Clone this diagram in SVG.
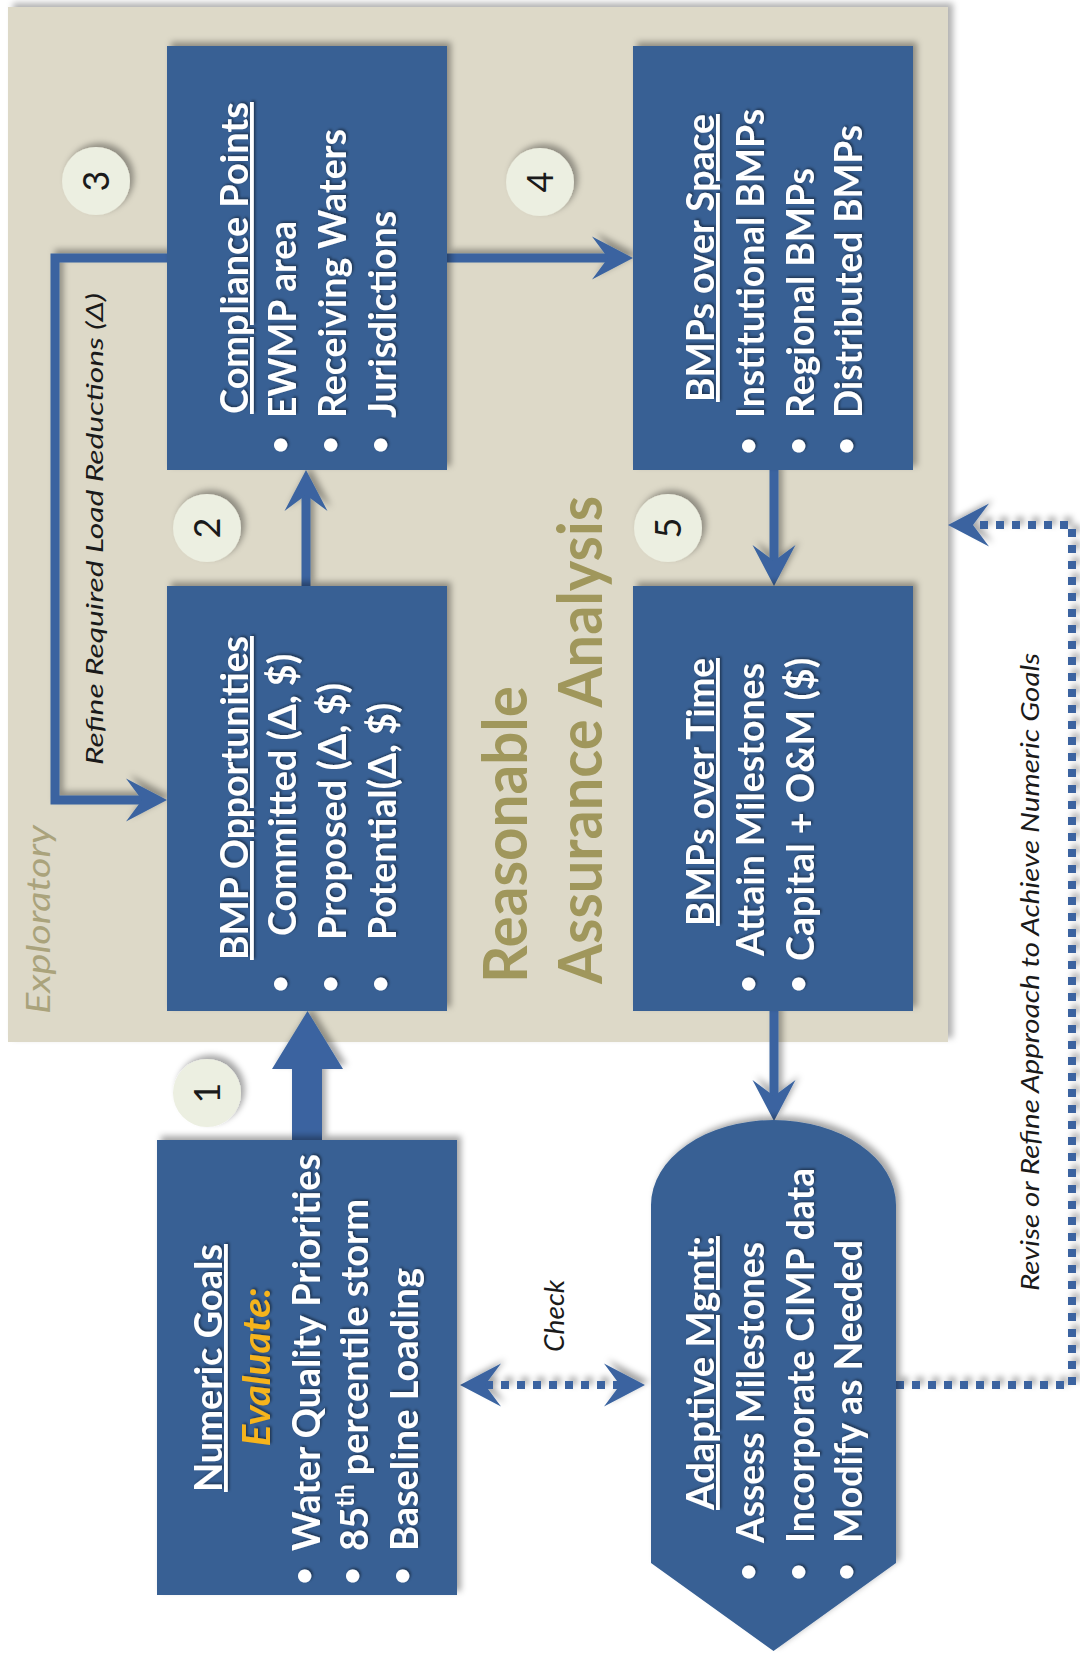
<svg xmlns="http://www.w3.org/2000/svg" width="1080" height="1656" viewBox="0 0 1080 1656">
  <defs>
    <style>
      .box { fill: #386094; }
      .txt { font-family: Lato, "Open Sans", "DejaVu Sans", sans-serif; font-weight: 700; font-size: 38px; fill: #ffffff; }
      .ttl { text-decoration: underline; }
      .bul { font-family: Lato, "Open Sans", "DejaVu Sans", sans-serif; font-size: 30px; fill: #ffffff; font-weight: 700; }
      .eval { font-family: Lato, "Open Sans", "DejaVu Sans", sans-serif; font-weight: 700; font-style: italic; font-size: 38px; fill: #f6b41c; }
      .badge { fill: #ecefe1; }
      .digit { font-family: Lato, "Open Sans", "DejaVu Sans", sans-serif; font-size: 36px; fill: #1a1a1a; }
      .note { font-family: Lato, "Open Sans", "DejaVu Sans", sans-serif; font-style: italic; fill: #1a1a1a; }
      .olive { font-family: Lato, "Open Sans", "DejaVu Sans", sans-serif; font-weight: 700; font-size: 62px; fill: #a0975c; }
      .explo { font-family: Lato, "Open Sans", "DejaVu Sans", sans-serif; font-style: italic; font-size: 32px; fill: #aaa37c; }
      .link { fill: none; stroke: #3a64a0; stroke-width: 9; }
      .dots { fill: none; stroke: #3a64a0; stroke-width: 8; stroke-dasharray: 8 8; }
    </style>
    <filter id="sh" x="-15%" y="-15%" width="130%" height="130%">
      <feDropShadow dx="4" dy="-4" stdDeviation="3" flood-color="#000" flood-opacity="0.35"/>
    </filter>
    <filter id="psh" x="-5%" y="-5%" width="110%" height="110%">
      <feDropShadow dx="5" dy="-4" stdDeviation="3" flood-color="#000" flood-opacity="0.3"/>
    </filter>
    <filter id="tsh" x="-10%" y="-10%" width="120%" height="120%">
      <feDropShadow dx="1.5" dy="-1.5" stdDeviation="1" flood-color="#000" flood-opacity="0.45"/>
    </filter>
    <!-- barbed arrowhead, origin at the notch -->
    <marker id="chev" viewBox="-18 -24 46 48" refX="0" refY="0" markerWidth="46" markerHeight="48" markerUnits="userSpaceOnUse" orient="auto-start-reverse">
      <path d="M25,0 L-16,-21.5 L0,0 L-16,21.5 Z" fill="#3a64a0"/>
    </marker>
  </defs>

  <rect width="1080" height="1656" fill="#ffffff"/>

  <!-- exploratory panel -->
  <g id="panel">
    <rect x="8" y="7" width="940" height="1035" fill="#ddd9c8" filter="url(#psh)"/>
    <text class="explo" transform="translate(50 1014) rotate(-90)" textLength="189" lengthAdjust="spacingAndGlyphs">Exploratory</text>
    <text class="olive" transform="translate(527 983) rotate(-90)" textLength="297" lengthAdjust="spacingAndGlyphs">Reasonable</text>
    <text class="olive" transform="translate(602 984) rotate(-90)" textLength="488" lengthAdjust="spacingAndGlyphs">Assurance Analysis</text>
  </g>

  <!-- connectors -->
  <g id="connectors" filter="url(#sh)">
    <path d="M292,1140 V1069 H272 L307.5,1011 L343,1069 H322 V1140 Z" fill="#3a64a0"/>
    <path class="link" d="M306,586 V495" marker-end="url(#chev)"/>
    <path class="link" d="M167,258 H55 V800 H142" marker-end="url(#chev)"/>
    <path class="link" d="M447,258 H608" marker-end="url(#chev)"/>
    <path class="link" d="M774,470 V561" marker-end="url(#chev)"/>
    <path class="link" d="M774,1011 V1096" marker-end="url(#chev)"/>
    <path class="dots" d="M485,1385 H620" marker-start="url(#chev)" marker-end="url(#chev)"/>
    <path class="dots" d="M896,1385 H1072 V525 H973" marker-end="url(#chev)"/>
  </g>

  <!-- connector labels -->
  <g id="connector-labels">
    <text class="note" font-size="24" transform="translate(103 765) rotate(-90)" textLength="472" lengthAdjust="spacingAndGlyphs">Refine Required Load Reductions (Δ)</text>
    <text class="note" font-size="27" text-anchor="middle" transform="translate(564 1316) rotate(-90)" textLength="72" lengthAdjust="spacingAndGlyphs">Check</text>
    <text class="note" font-size="26" transform="translate(1039 1291) rotate(-90)" textLength="638" lengthAdjust="spacingAndGlyphs">Revise or Refine Approach to Achieve Numeric Goals</text>
  </g>

  <!-- step badges -->
  <g id="badge-1"><circle class="badge" cx="207" cy="1093" r="34" filter="url(#sh)"/><text class="digit" text-anchor="middle" transform="translate(220 1093) rotate(-90)">1</text></g>
  <g id="badge-2"><circle class="badge" cx="207" cy="528" r="34" filter="url(#sh)"/><text class="digit" text-anchor="middle" transform="translate(220 528) rotate(-90)">2</text></g>
  <g id="badge-3"><circle class="badge" cx="96" cy="181" r="34" filter="url(#sh)"/><text class="digit" text-anchor="middle" transform="translate(109 181) rotate(-90)">3</text></g>
  <g id="badge-4"><circle class="badge" cx="540" cy="182" r="34" filter="url(#sh)"/><text class="digit" text-anchor="middle" transform="translate(553 182) rotate(-90)">4</text></g>
  <g id="badge-5"><circle class="badge" cx="668" cy="528" r="34" filter="url(#sh)"/><text class="digit" text-anchor="middle" transform="translate(681 528) rotate(-90)">5</text></g>

  <!-- Compliance Points -->
  <g id="compliance-points">
    <rect class="box" x="167" y="46" width="280" height="424" filter="url(#sh)"/>
    <g filter="url(#tsh)">
      <text class="txt ttl" transform="translate(248 414) rotate(-90)" textLength="312" lengthAdjust="spacingAndGlyphs">Compliance Points</text>
      <text class="bul" text-anchor="middle" transform="translate(290 445) rotate(-90)">•</text>
      <text class="bul" text-anchor="middle" transform="translate(340 445) rotate(-90)">•</text>
      <text class="bul" text-anchor="middle" transform="translate(390 445) rotate(-90)">•</text>
      <text class="txt" transform="translate(296 418) rotate(-90)" textLength="197" lengthAdjust="spacingAndGlyphs">EWMP area</text>
      <text class="txt" transform="translate(346 418) rotate(-90)" textLength="289" lengthAdjust="spacingAndGlyphs">Receiving Waters</text>
      <text class="txt" transform="translate(396 418) rotate(-90)" textLength="207" lengthAdjust="spacingAndGlyphs">Jurisdictions</text>
    </g>
  </g>

  <!-- BMPs over Space -->
  <g id="bmps-over-space">
    <rect class="box" x="633" y="46" width="280" height="424" filter="url(#sh)"/>
    <g filter="url(#tsh)">
      <text class="txt ttl" transform="translate(714 402) rotate(-90)" textLength="288" lengthAdjust="spacingAndGlyphs">BMPs over Space</text>
      <text class="bul" text-anchor="middle" transform="translate(758 446) rotate(-90)">•</text>
      <text class="bul" text-anchor="middle" transform="translate(808 446) rotate(-90)">•</text>
      <text class="bul" text-anchor="middle" transform="translate(856 446) rotate(-90)">•</text>
      <text class="txt" transform="translate(764 418) rotate(-90)" textLength="309" lengthAdjust="spacingAndGlyphs">Institutional BMPs</text>
      <text class="txt" transform="translate(814 418) rotate(-90)" textLength="250" lengthAdjust="spacingAndGlyphs">Regional BMPs</text>
      <text class="txt" transform="translate(862 418) rotate(-90)" textLength="293" lengthAdjust="spacingAndGlyphs">Distributed BMPs</text>
    </g>
  </g>

  <!-- BMP Opportunities -->
  <g id="bmp-opportunities">
    <rect class="box" x="167" y="586" width="280" height="425" filter="url(#sh)"/>
    <g filter="url(#tsh)">
      <text class="txt ttl" transform="translate(248 960) rotate(-90)" textLength="324" lengthAdjust="spacingAndGlyphs">BMP Opportunities</text>
      <text class="bul" text-anchor="middle" transform="translate(290 984) rotate(-90)">•</text>
      <text class="bul" text-anchor="middle" transform="translate(340 984) rotate(-90)">•</text>
      <text class="bul" text-anchor="middle" transform="translate(390 984) rotate(-90)">•</text>
      <text class="txt" transform="translate(296 936) rotate(-90)" textLength="282" lengthAdjust="spacingAndGlyphs">Committed (Δ, $)</text>
      <text class="txt" transform="translate(346 940) rotate(-90)" textLength="257" lengthAdjust="spacingAndGlyphs">Proposed (Δ, $)</text>
      <text class="txt" transform="translate(396 940) rotate(-90)" textLength="237" lengthAdjust="spacingAndGlyphs">Potential(Δ, $)</text>
    </g>
  </g>

  <!-- BMPs over Time -->
  <g id="bmps-over-time">
    <rect class="box" x="633" y="586" width="280" height="425" filter="url(#sh)"/>
    <g filter="url(#tsh)">
      <text class="txt ttl" transform="translate(714 926) rotate(-90)" textLength="268" lengthAdjust="spacingAndGlyphs">BMPs over Time</text>
      <text class="bul" text-anchor="middle" transform="translate(758 984) rotate(-90)">•</text>
      <text class="bul" text-anchor="middle" transform="translate(808 984) rotate(-90)">•</text>
      <text class="txt" transform="translate(764 956) rotate(-90)" textLength="293" lengthAdjust="spacingAndGlyphs">Attain Milestones</text>
      <text class="txt" transform="translate(814 961) rotate(-90)" textLength="303" lengthAdjust="spacingAndGlyphs">Capital + O&amp;M ($)</text>
    </g>
  </g>

  <!-- Numeric Goals -->
  <g id="numeric-goals">
    <rect class="box" x="157" y="1140" width="300" height="455" filter="url(#sh)"/>
    <g filter="url(#tsh)">
      <text class="txt ttl" text-anchor="middle" transform="translate(222 1368) rotate(-90)" textLength="248" lengthAdjust="spacingAndGlyphs">Numeric Goals</text>
      <text class="eval" text-anchor="middle" transform="translate(270 1367) rotate(-90)" textLength="159" lengthAdjust="spacingAndGlyphs">Evaluate:</text>
      <text class="bul" text-anchor="middle" transform="translate(314 1576) rotate(-90)">•</text>
      <text class="bul" text-anchor="middle" transform="translate(362 1576) rotate(-90)">•</text>
      <text class="bul" text-anchor="middle" transform="translate(412 1576) rotate(-90)">•</text>
      <text class="txt" transform="translate(320 1551) rotate(-90)" textLength="397" lengthAdjust="spacingAndGlyphs">Water Quality Priorities</text>
      <text class="txt" transform="translate(368 1551) rotate(-90)" textLength="352" lengthAdjust="spacingAndGlyphs">85<tspan font-size="24" baseline-shift="60%">th</tspan> percentile storm</text>
      <text class="txt" transform="translate(418 1551) rotate(-90)" textLength="283" lengthAdjust="spacingAndGlyphs">Baseline Loading</text>
    </g>
  </g>

  <!-- Adaptive Mgmt -->
  <g id="adaptive-mgmt">
    <path class="box" d="M651,1563 V1205 A122.5,85 0 0 1 896,1205 V1563 L773.5,1651 Z" filter="url(#sh)"/>
    <g filter="url(#tsh)">
      <text class="txt ttl" transform="translate(714 1510) rotate(-90)" textLength="274" lengthAdjust="spacingAndGlyphs">Adaptive Mgmt:</text>
      <text class="bul" text-anchor="middle" transform="translate(758 1572) rotate(-90)">•</text>
      <text class="bul" text-anchor="middle" transform="translate(808 1572) rotate(-90)">•</text>
      <text class="bul" text-anchor="middle" transform="translate(856 1572) rotate(-90)">•</text>
      <text class="txt" transform="translate(764 1543) rotate(-90)" textLength="301" lengthAdjust="spacingAndGlyphs">Assess Milestones</text>
      <text class="txt" transform="translate(814 1543) rotate(-90)" textLength="375" lengthAdjust="spacingAndGlyphs">Incorporate CIMP data</text>
      <text class="txt" transform="translate(862 1543) rotate(-90)" textLength="303" lengthAdjust="spacingAndGlyphs">Modify as Needed</text>
    </g>
  </g>
</svg>
